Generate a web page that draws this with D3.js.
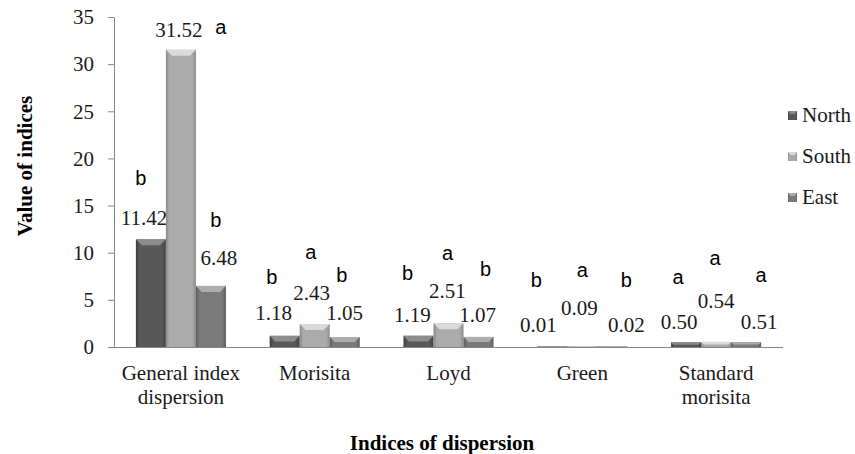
<!DOCTYPE html>
<html>
<head>
<meta charset="utf-8">
<script src="https://d3js.org/d3.v7.min.js"></script>
<style>
  body { margin: 0; background: #fff; }
</style>
</head>
<body>
<svg class="canvas"></svg>
<script>
// categories and tick labels
var categories = ["General index dispersion", "Morisita", "Loyd", "Green", "Standard morisita"];
var categoryLines = [["General index", "dispersion"], ["Morisita"], ["Loyd"], ["Green"], ["Standard", "morisita"]];
var seriesNames = ["North", "South", "East"];

// series values
var north = [11.42, 1.18, 1.19, 0.01, 0.50];
var south = [31.52, 2.43, 2.51, 0.09, 0.54];
var east = [6.48, 1.05, 1.07, 0.02, 0.51];

// significance letters
var northLetters = ["b", "b", "b", "b", "a"];
var southLetters = ["a", "a", "a", "a", "a"];
var eastLetters = ["b", "b", "b", "b", "a"];

var yTicks = [0, 5, 10, 15, 20, 25, 30, 35];

// layout
var width = 855,
	height = 454;
var PLOT_L = 114, PLOT_R = 783, PLOT_T = 17, PLOT_B = 347;
var FONT = 21;
var SERIF = "'Liberation Serif', 'Times New Roman', Times, serif";
var SANS = "'Liberation Sans', Arial, sans-serif";

// label nudges per group/series: [label dx, label dy, letter dx, letter dy] from bar top centre
var LABEL_POS = [
	[[-7, -22, -10, -61], [-2, -20, 40, -23], [8, -28, 5, -66]],
	[[-11, -23, -13, -59], [-3, -31, -4, -72], [0, -24, -3, -62]],
	[[-6, -21, -11, -63], [-1, -33, -1, -70], [-1, -22, 7, -68]],
	[[-14, -22, -16, -67], [-3, -39, 0, -76], [14, -22, 14, -67]],
	[[-7, -21, -8, -65], [0, -41, -1, -84], [13, -21, 15, -67]]
];

var COLORS = {
	North: { base: "#585858", edge: "#3e3e3e", top: "#8c8c8c" },
	South: { base: "#ababab", edge: "#8a8a8a", top: "#dadada" },
	East: { base: "#7a7a7a", edge: "#5a5a5a", top: "#adadad" }
};

var seriesValues = [north, south, east];
var seriesLetters = [northLetters, southLetters, eastLetters];

var svg = d3.select(".canvas").attr("width", width).attr("height", height)
	.style("font-family", SERIF);
var defs = svg.append("defs");

seriesNames.forEach(function(s) {
	var g = defs.append("linearGradient").attr("id", "grad-" + s)
		.attr("x1", "0").attr("x2", "1").attr("y1", "0").attr("y2", "0");
	g.append("stop").attr("offset", "0").attr("stop-color", COLORS[s].edge);
	g.append("stop").attr("offset", "0.12").attr("stop-color", COLORS[s].base);
	g.append("stop").attr("offset", "0.88").attr("stop-color", COLORS[s].base);
	g.append("stop").attr("offset", "1").attr("stop-color", COLORS[s].edge);
});

var x0 = d3.scaleBand().domain(categories).range([PLOT_L, PLOT_R])
	.paddingInner(0.327).paddingOuter(0.1635);
var x1 = d3.scaleBand().domain(seriesNames).range([0, x0.bandwidth()]);
var y = d3.scaleLinear().domain([0, 35]).range([PLOT_B, PLOT_T]);

// y axis
var yAxis = svg.append("g")
	.attr("transform", "translate(" + PLOT_L + ",0)")
	.call(d3.axisLeft(y).tickValues(yTicks).tickSizeInner(6).tickSizeOuter(0).tickPadding(14));
yAxis.attr("font-family", null).attr("font-size", null);
yAxis.select(".domain").attr("stroke", "#868686");
yAxis.selectAll(".tick line").attr("stroke", "#868686");
yAxis.selectAll(".tick text")
	.style("font-family", SERIF)
	.style("font-size", FONT + "px").attr("fill", "#1a1a1a");

// bars
function bevel(x, top, w, h) {
	var b = Math.min(6, h / 2);
	return "M" + x + "," + top + "L" + (x + w) + "," + top +
		"L" + (x + w - b) + "," + (top + b) + "L" + (x + b) + "," + (top + b) + "Z";
}

var groups = svg.selectAll("g.grp").data(categories)
	.enter().append("g")
	.attr("class", "grp")
	.attr("transform", function(d) { return "translate(" + x0(d) + ",0)"; });

groups.each(function(cat, gi) {
	var grp = d3.select(this);
	seriesNames.forEach(function(s, si) {
		var v = seriesValues[si][gi];
		var bx = x1(s), bw = x1.bandwidth();
		var top = y(v), h = Math.max(PLOT_B - top, 0.6);
		grp.append("rect")
			.attr("x", bx).attr("y", PLOT_B - h)
			.attr("width", bw).attr("height", h)
			.attr("fill", "url(#grad-" + s + ")");
		grp.append("path")
			.attr("d", bevel(bx, PLOT_B - h, bw, h))
			.attr("fill", COLORS[s].top);
		var p = LABEL_POS[gi][si];
		var cx = bx + bw / 2;
		grp.append("text")
			.attr("x", cx + p[0]).attr("y", top + p[1])
			.attr("dy", ".35em").attr("text-anchor", "middle")
			.style("font-family", SERIF)
			.style("font-size", FONT + "px").attr("fill", "#1a1a1a")
			.text(v.toFixed(2));
		grp.append("text")
			.attr("x", cx + p[2]).attr("y", top + p[3])
			.attr("dy", ".35em").attr("text-anchor", "middle")
			.style("font-family", SANS)
			.style("font-size", "20px").attr("fill", "#000")
			.text(seriesLetters[si][gi]);
	});
});

// x axis line
svg.append("line")
	.attr("x1", PLOT_L).attr("x2", PLOT_R)
	.attr("y1", PLOT_B + 0.5).attr("y2", PLOT_B + 0.5)
	.attr("stroke", "#868686");

// category labels
svg.selectAll("text.cat").data(categories)
	.enter().append("text")
	.attr("class", "cat")
	.attr("x", function(d) { return x0(d) + x0.bandwidth() / 2; })
	.attr("y", 373)
	.attr("text-anchor", "middle")
	.style("font-family", SERIF)
	.style("font-size", FONT + "px").attr("fill", "#1a1a1a")
	.each(function(d, i) {
		var t = d3.select(this);
		categoryLines[i].forEach(function(line, li) {
			t.append("tspan")
				.attr("x", x0(d) + x0.bandwidth() / 2)
				.attr("dy", li === 0 ? ".35em" : "24px")
				.text(line);
		});
	});

// axis titles
svg.append("text")
	.attr("transform", "translate(25,166) rotate(-90)")
	.attr("text-anchor", "middle").attr("dy", ".35em")
	.style("font-family", SERIF)
	.style("font-size", FONT + "px").style("font-weight", "bold")
	.text("Value of indices");

svg.append("text")
	.attr("x", 442).attr("y", 443)
	.attr("text-anchor", "middle").attr("dy", ".35em")
	.style("font-family", SERIF)
	.style("font-size", FONT + "px").style("font-weight", "bold")
	.text("Indices of dispersion");

// legend
var legend = svg.selectAll("g.leg").data(seriesNames)
	.enter().append("g")
	.attr("class", "leg")
	.attr("transform", function(d, i) { return "translate(788," + (115 + i * 41) + ")"; });

legend.append("rect")
	.attr("x", 0).attr("y", -4).attr("width", 9).attr("height", 9)
	.attr("fill", function(d) { return "url(#grad-" + d + ")"; });
legend.append("path")
	.attr("d", "M0,-4L9,-4L6.5,-1L2.5,-1Z")
	.attr("fill", function(d) { return COLORS[d].top; });
legend.append("text")
	.attr("x", 14).attr("y", 0).attr("dy", ".35em")
	.style("font-family", SERIF)
	.style("font-size", FONT + "px").attr("fill", "#1a1a1a")
	.text(function(d) { return d; });
</script>
</body>
</html>
